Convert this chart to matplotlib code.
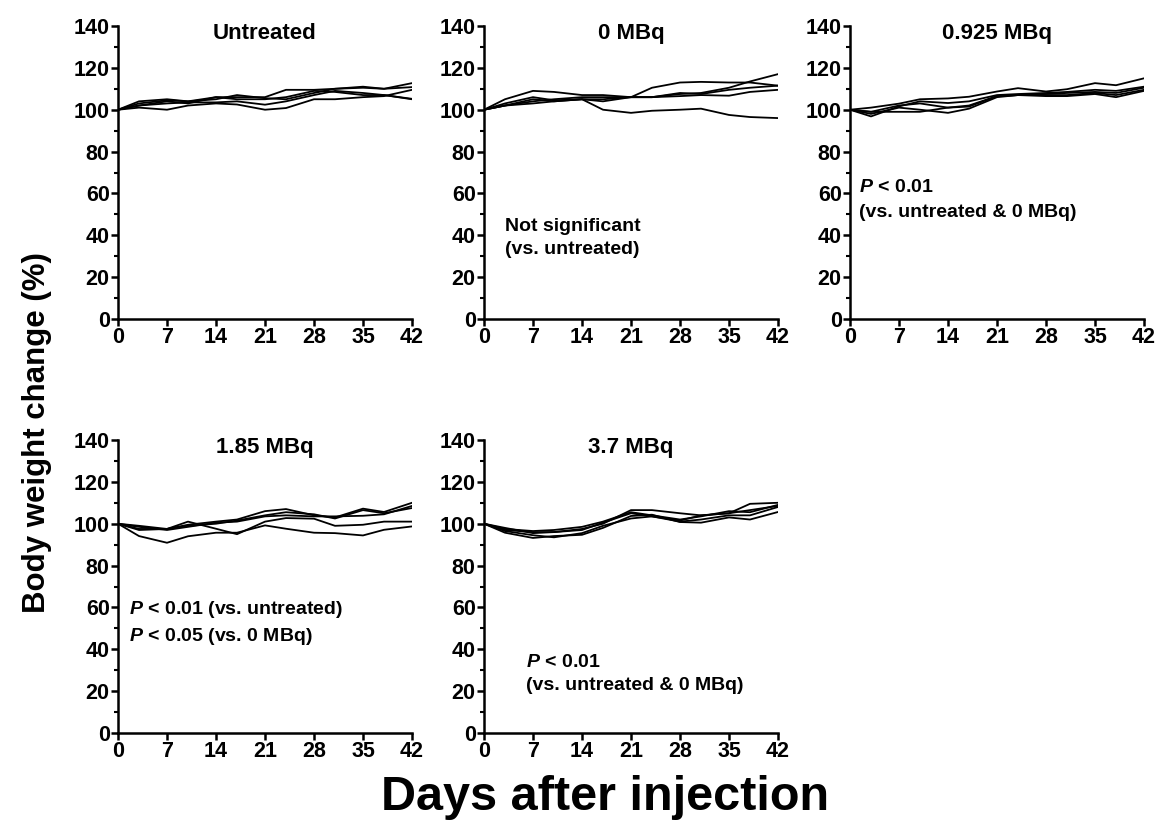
import matplotlib
matplotlib.use("Agg")
import matplotlib.pyplot as plt
from matplotlib.ticker import MultipleLocator

plt.rcParams['font.family'] = ['Liberation Sans', 'DejaVu Sans']
plt.rcParams['font.weight'] = 'bold'
plt.rcParams['mathtext.fontset'] = 'custom'
plt.rcParams['mathtext.bfit'] = 'Liberation Sans:bold:italic'

days = [0, 3, 7, 10, 14, 17, 21, 24, 28, 31, 35, 38, 42]

untreated = [
    [100, 101, 100, 102, 103, 102.5, 100, 100.8, 105, 105, 106, 106.5, 109.5],
    [100, 102, 103, 103.5, 103.5, 104, 102.4, 104, 107, 109, 108, 107, 105],
    [100, 104, 105, 104, 106, 106, 106, 109.5, 109.5, 110, 111, 110, 110.8],
    [100, 103, 104.5, 104, 105, 107, 105.5, 105, 108, 110, 110.5, 110, 112.7],
    [100, 102, 104, 103, 106, 105, 105, 106, 109, 108.5, 107, 107, 105.2],
]
mbq_0 = [
    [100, 102, 103, 104, 105, 100, 98.5, 99.5, 100, 100.5, 97.5, 96.5, 96],
    [100, 105, 109, 108.5, 107, 107, 106, 106, 108, 107.5, 109.5, 110.5, 111.5],
    [100, 103, 106, 104.5, 105, 104, 106, 110.5, 113, 113.3, 113, 113, 111.5],
    [100, 102, 104, 105, 106, 106, 106, 106, 107.5, 108, 110.5, 113.5, 117],
    [100, 102, 105, 104, 105, 105, 106, 106, 106.5, 107, 106.7, 108.5, 109.5],
]
mbq_0925 = [
    [100, 101, 102.9, 105, 105.4, 106.2, 108.7, 110.3, 108.7, 109.8, 112.7, 111.7, 115],
    [100, 96.8, 101.6, 104, 103.2, 104, 107, 107.5, 108, 108.5, 109.5, 109, 111],
    [100, 99, 99, 99, 101, 102, 106.5, 107, 107, 107, 108, 107, 109.5],
    [100, 98, 101, 100, 98.5, 100.5, 106, 107, 106.5, 106.5, 107.5, 106, 109],
    [100, 99, 102, 103, 101, 101.5, 106.5, 107, 107.5, 108, 108.5, 108, 110.5],
]
mbq_185 = [
    [100, 94.1, 90.9, 94, 95.7, 95.7, 99.2, 97.6, 95.7, 95.5, 94.4, 97.1, 98.7],
    [100, 97, 97.5, 101, 97.6, 95, 101, 102.7, 102.4, 99, 99.5, 101, 101],
    [100, 97.5, 97.5, 99.5, 101, 102, 106, 107, 104, 103, 107.2, 105.6, 110],
    [100, 98.5, 97, 98.5, 100.5, 101, 103.5, 104, 103.5, 103.5, 103.8, 104.5, 108.5],
    [100, 99, 97.5, 99, 100, 101.5, 104, 105.5, 104.5, 102.5, 106.5, 105, 107.5],
]
mbq_37 = [
    [100, 95.7, 93.2, 94.1, 94.7, 98, 103.7, 104.3, 100.8, 100.5, 103, 102, 105.6],
    [100, 96.5, 94.5, 93.5, 95.5, 99, 102.5, 103.5, 101, 102, 104, 104, 108],
    [100, 97, 96, 96, 97.5, 100, 106.5, 106.5, 105, 104, 105, 109.5, 110],
    [100, 97.5, 96.5, 97, 98.5, 101, 105.5, 104, 102, 103.5, 106, 105.5, 109],
    [100, 98, 95.5, 96, 97, 100.5, 105, 103.5, 101.5, 104, 105, 106.5, 108.5],
]

titles = ["Untreated", "0 MBq", "0.925 MBq", "1.85 MBq", "3.7 MBq"]
groups = [untreated, mbq_0, mbq_0925, mbq_185, mbq_37]
xticks = [0, 7, 14, 21, 28, 35, 42]
yticks = [0, 20, 40, 60, 80, 100, 120, 140]

annots = [
    [],
    [(3.0, 44, "Not significant"), (3.0, 33, "(vs. untreated)")],
    [(1.3, 62.6, r"$\bfit{P}$ < 0.01"), (1.3, 51, "(vs. untreated & 0 MBq)")],
    [(1.6, 59.2, r"$\bfit{P}$ < 0.01 (vs. untreated)"), (1.6, 45.9, r"$\bfit{P}$ < 0.05 (vs. 0 MBq)")],
    [(6.0, 33.9, r"$\bfit{P}$ < 0.01"), (6.0, 22.9, "(vs. untreated & 0 MBq)")],
]

W, H = 1156, 825
fig = plt.figure(figsize=(W / 100, H / 100), dpi=100)
lefts = [118, 484, 850, 118, 484]
tops = [26, 26, 26, 440, 440]
aw, ah = 294, 293

for i in range(5):
    l, t = lefts[i], tops[i]
    ax = fig.add_axes([l / W, 1 - (t + ah) / H, aw / W, ah / H])
    for series in groups[i]:
        ax.plot(days, series, color='black', lw=1.3)
    ax.set_xlim(0, 42)
    ax.set_ylim(0, 140)
    ax.set_xticks(xticks)
    ax.set_yticks(yticks)
    ax.yaxis.set_minor_locator(MultipleLocator(10))
    ax.spines['top'].set_visible(False)
    ax.spines['right'].set_visible(False)
    for s in ('left', 'bottom'):
        ax.spines[s].set_linewidth(1.8)
    ax.tick_params(which='major', direction='out', length=5, width=1.8,
                   labelsize=15.5, pad=1)
    ax.tick_params(which='minor', direction='out', length=3, width=1.5)
    for lab in ax.get_xticklabels() + ax.get_yticklabels():
        lab.set_fontweight('bold')
    ax.text(21, 136.5, titles[i], ha='center', va='center', fontsize=16,
            fontweight='bold')
    for (x, y, s) in annots[i]:
        ax.text(x, y, s, ha='left', va='center', fontsize=14, fontweight='bold')

fig.text(37 / W, 1 - 433 / H, "Body weight change (%)", rotation=90,
         ha='center', va='center', fontsize=22.5, fontweight='bold')
fig.text(605 / W, 1 - 797 / H, "Days after injection", ha='center',
         va='center', fontsize=35, fontweight='bold')

fig.savefig("out.png", dpi=100)
